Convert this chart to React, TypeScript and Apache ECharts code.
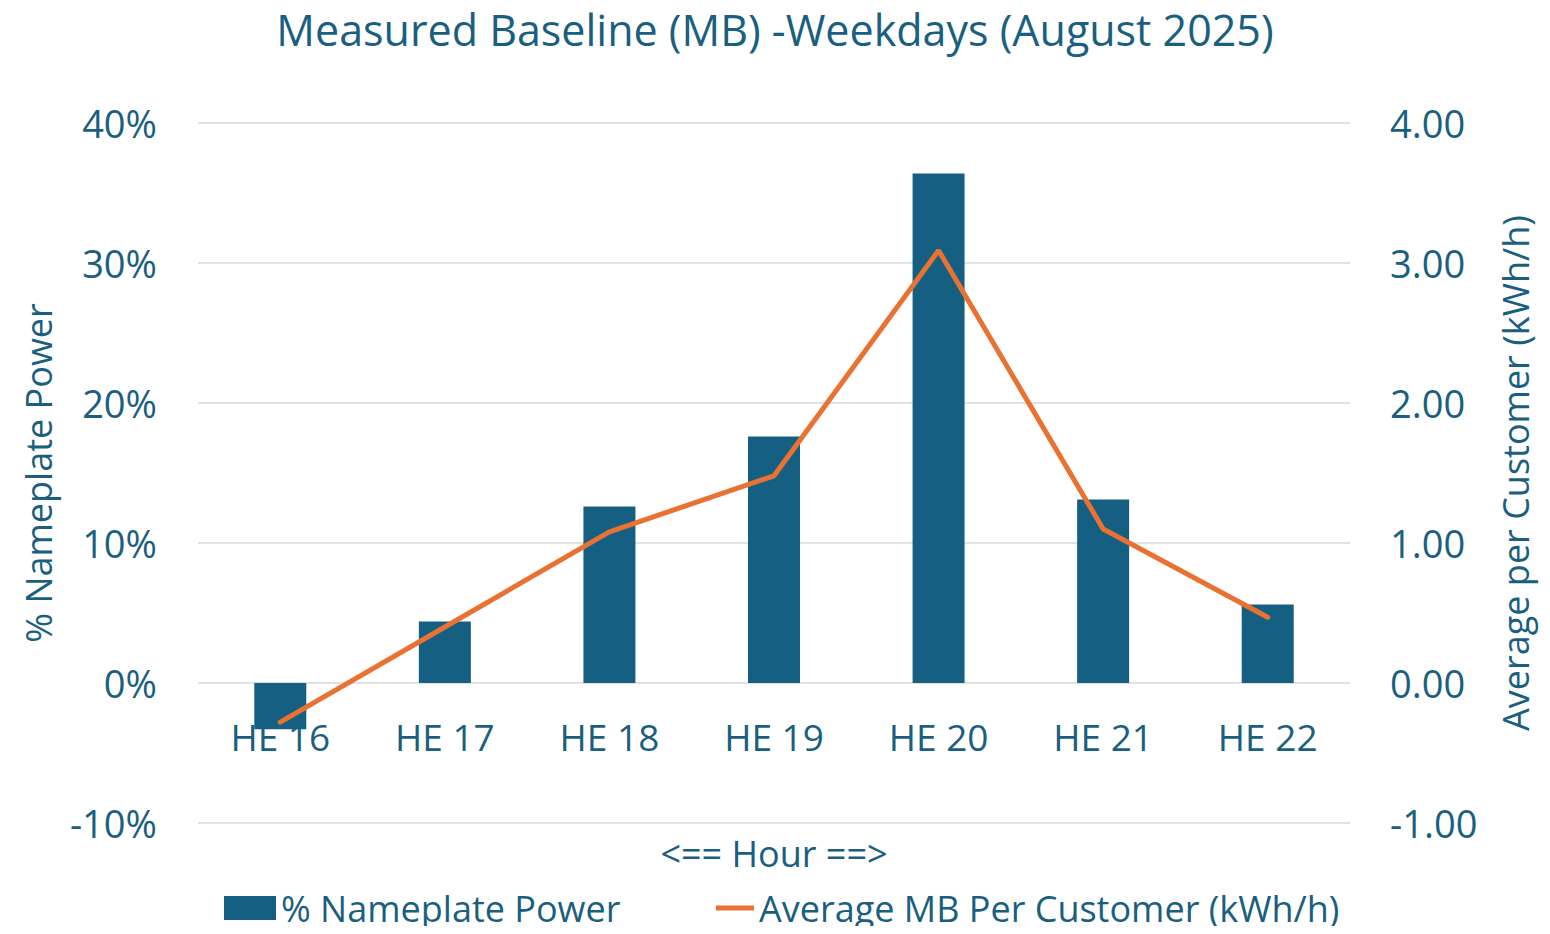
import React, { useEffect, useRef } from "react";
import * as echarts from "echarts";

const categories = ["HE 16", "HE 17", "HE 18", "HE 19", "HE 20", "HE 21", "HE 22"];
const nameplatePct = [-3.3, 4.4, 12.6, 17.6, 36.4, 13.1, 5.6];
const avgMB = [-0.28, 0.4, 1.08, 1.48, 3.09, 1.1, 0.47];
const leftTicks = { min: -10, max: 40, interval: 10 };
const rightTicks = { min: -1, max: 4, interval: 1 };

const BLUE = "#156082";
const ORANGE = "#E97132";
const TEXT = "#1A5F80";
const GRID = "#D9D9D9";
const FONT = "'Open Sans', 'Noto Sans', sans-serif";

export default function App() {
  const ref = useRef<HTMLDivElement>(null);
  useEffect(() => {
    const chart = echarts.init(ref.current!, null, { renderer: "svg" });
    chart.setOption({
      animation: false,
      textStyle: { fontFamily: FONT, color: TEXT },
      title: {
        text: "Measured Baseline (MB) -Weekdays (August 2025)",
        left: "center",
        top: 0,
        padding: 0,
        textStyle: { fontFamily: FONT, color: TEXT, fontSize: 43, fontWeight: "normal" },
      },
      grid: { left: 190, right: 192, top: 115, bottom: 103, containLabel: false, outerBoundsMode: "none" },
      legend: [
        {
          data: [{ name: "% Nameplate Power", icon: "rect" }],
          left: 216,
          top: 882,
          padding: 0,
          itemWidth: 52,
          itemHeight: 24,
          textStyle: { fontFamily: FONT, color: TEXT, fontSize: 36 },
        },
        {
          data: [{ name: "Average MB Per Customer (kWh/h)", icon: "rect" }],
          left: 708,
          top: 882,
          padding: 0,
          itemWidth: 38,
          itemHeight: 5,
          textStyle: { fontFamily: FONT, color: TEXT, fontSize: 36 },
        },
      ],
      xAxis: {
        type: "category",
        data: categories,
        axisLine: { show: false },
        axisTick: { show: false },
        axisLabel: { color: TEXT, fontSize: 37, fontFamily: FONT, margin: -105 },
        name: "<== Hour ==>",
        nameLocation: "middle",
        nameGap: 12,
        nameMoveOverlap: false,
        nameTextStyle: { color: TEXT, fontSize: 36, fontFamily: FONT, verticalAlign: "top" },
      },
      yAxis: [
        {
          type: "value",
          ...leftTicks,
          axisLabel: { formatter: "{value}%", color: TEXT, fontSize: 38, fontFamily: FONT, margin: 41 },
          splitLine: { lineStyle: { color: GRID, width: 1.5 } },
          axisLine: { show: false },
          axisTick: { show: false },
          name: "% Nameplate Power",
          nameLocation: "middle",
          nameGap: 142,
          nameRotate: 90,
          nameMoveOverlap: false,
          nameTextStyle: { color: TEXT, fontSize: 36, fontFamily: FONT },
        },
        {
          type: "value",
          ...rightTicks,
          axisLabel: {
            formatter: (v: number) => v.toFixed(2),
            color: TEXT,
            fontSize: 38,
            fontFamily: FONT,
            margin: 40,
          },
          splitLine: { show: false },
          axisLine: { show: false },
          axisTick: { show: false },
          name: "Average per Customer (kWh/h)",
          nameLocation: "middle",
          nameGap: 147,
          nameRotate: 90,
          nameMoveOverlap: false,
          nameTextStyle: { color: TEXT, fontSize: 36, fontFamily: FONT },
        },
      ],
      series: [
        {
          name: "% Nameplate Power",
          type: "bar",
          data: nameplatePct,
          yAxisIndex: 0,
          barWidth: 52,
          itemStyle: { color: BLUE },
        },
        {
          name: "Average MB Per Customer (kWh/h)",
          type: "line",
          data: avgMB,
          yAxisIndex: 1,
          showSymbol: false,
          symbol: "none",
          lineStyle: { color: ORANGE, width: 5, cap: "round" },
          itemStyle: { color: ORANGE },
        },
      ],
    });
    return () => chart.dispose();
  }, []);
  return <div ref={ref} style={{ width: 1534, height: 918 }} />;
}
